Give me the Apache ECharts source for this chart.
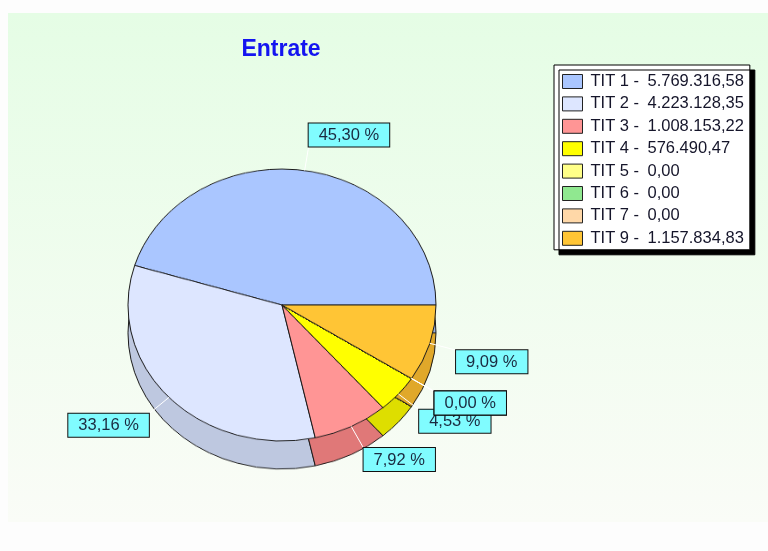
<!DOCTYPE html>
<html><head><meta charset="utf-8">
<script src="https://cdn.jsdelivr.net/npm/echarts/dist/echarts.min.js"></script>
<style>
html,body{margin:0;padding:0;background:#fdfdfd;}
#wrap{position:relative;width:768px;height:551px;overflow:hidden;}
.layer{position:absolute;left:0;top:0;width:768px;height:551px;}
#pie{transform-origin:282px 305px;transform:scaleY(0.883);}
</style></head><body>
<div id="wrap"><div id="bg" class="layer"></div><div id="pie" class="layer"></div><div id="fg" class="layer"></div></div>
<script>
// ---- data ----
const categories = ['TIT 1','TIT 2','TIT 3','TIT 4','TIT 5','TIT 6','TIT 7','TIT 9'];
const values = [5769316.58, 4223128.35, 1008153.22, 576490.47, 0, 0, 0, 1157834.83];
const titleText = 'Entrate';
// ---- styles ----
const topColors  = ['#aac6ff','#dde6ff','#ff9595','#ffff00','#ffff88','#90e890','#ffd8a8','#ffc535'];
const sideColors = ['#94acde','#bec8e0','#e07878','#dede00','#dede70','#7ccc7c','#e0bc90','#e0a82a'];
const FONT = '"Liberation Sans", Arial, sans-serif';
const CX = 282, CY = 305, RX = 154, K = 0.883, RY = RX * K, DEPTH = 28, LS = 1.178;

function fmtIt(v){
  const parts = v.toFixed(2).split('.');
  return parts[0].replace(/\B(?=(\d{3})+(?!\d))/g, '.') + ',' + parts[1];
}
const total = values.reduce((a,b)=>a+b,0);

// background + title
const bg = echarts.init(document.getElementById('bg'), null, {renderer:'canvas'});
bg.setOption({
  animation:false,
  title:{text:titleText, left:281, top:38, textAlign:'center', padding:0,
    textStyle:{fontSize:23, fontWeight:'bold', color:'#1414f0', fontFamily:FONT}},
  graphic:[{type:'rect', z:-10, shape:{x:8,y:13,width:760,height:509},
    style:{fill:new echarts.graphic.LinearGradient(0,0,0,1,[{offset:0,color:'#e5fde5'},{offset:1,color:'#fafcf7'}])}}]
});

// pie (3D look: offset darker pie under top pie, scaled vertically by CSS)
const pie = echarts.init(document.getElementById('pie'));
function pieSeries(colors, cy, z){
  return {type:'pie', center:[CX, cy], radius:RX, startAngle:0, clockwise:false, silent:true, z:z,
    avoidLabelOverlap:false,
    label:{show:false}, labelLine:{show:false},
    itemStyle:{borderColor:'#1a1a1a', borderWidth:1},
    data:categories.map((n,i)=>({name:n, value:values[i], itemStyle:{color:colors[i]}}))};
}
pie.setOption({animation:false, series:[pieSeries(sideColors, CY + DEPTH / K, 1), pieSeries(topColors, CY, 2)]});

// labels + legend
const fg = echarts.init(document.getElementById('fg'));
fg.setOption({
  animation:false,
  legend:{orient:'vertical', left:554, top:65, icon:'rect', itemWidth:20, itemHeight:14, itemGap:5.4,
    padding:[8,6,3,8], backgroundColor:'#fff', borderColor:'#000', borderWidth:1,
    shadowColor:'#000', shadowOffsetX:5, shadowOffsetY:5, shadowBlur:0, selectedMode:false,
    itemStyle:{opacity:1, borderColor:'#222', borderWidth:1},
    formatter:function(name){ return '{a|' + name + ' -}{b|' + fmtIt(values[categories.indexOf(name)]) + '}'; },
    textStyle:{fontSize:16.5, fontFamily:FONT, color:'#15152a', lineHeight:16,
      rich:{a:{width:57, padding:[0,0,0,3], fontSize:16.5, fontFamily:FONT, color:'#15152a', lineHeight:16},
            b:{fontSize:16.5, fontFamily:FONT, color:'#15152a', lineHeight:16}}}},
  series:[{type:'pie', center:[CX,CY], radius:RX, startAngle:0, clockwise:false, silent:true,
    avoidLabelOverlap:false,
    itemStyle:{opacity:0},
    data:categories.map((n,i)=>({name:n, value:values[i], itemStyle:{color:topColors[i]}})),
    label:{show:true, position:'outside', opacity:1,
      formatter:function(p){ return p.percent.toFixed(2).replace('.', ',') + ' %'; },
      fontSize:16.5, fontFamily:FONT, color:'#1a2a40', backgroundColor:'#80fcff',
      borderColor:'#111', borderWidth:1, padding:[3,10,2,10], lineHeight:18},
    labelLine:{show:true, lineStyle:{color:'#ffffff', width:1, opacity:1}},
    labelLayout:function(p){
      const i = p.dataIndex;
      let cum = 0; for (let j = 0; j < i; j++) cum += values[j];
      const ang = (cum + values[i] / 2) / total * Math.PI * 2;
      const c = Math.cos(ang), s = Math.sin(ang);
      const ex = CX + RX * c, ey = CY - RY * s;
      const lx = CX + RX * LS * c, ly = CY - RY * LS * s;
      return {x:lx, y:ly, align: c >= 0 ? 'left' : 'right', verticalAlign: s >= 0 ? 'bottom' : 'top',
        labelLinePoints:[[ex,ey],[lx,ly],[lx,ly]]};
    }
  }]
});
</script>
</body></html>
